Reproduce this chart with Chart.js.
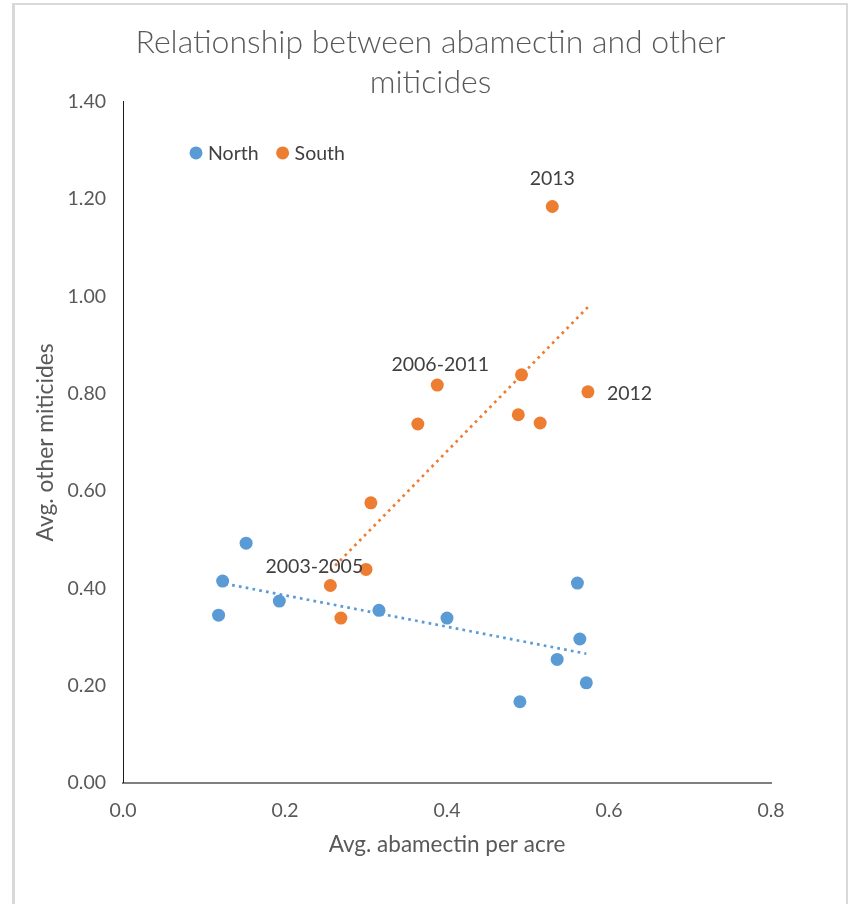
<!DOCTYPE html>
<html>
<head>
<meta charset="utf-8">
<script src="https://cdn.jsdelivr.net/npm/chart.js@4.4.1/dist/chart.umd.min.js"></script>
<style>
  html, body { margin: 0; padding: 0; background: #fff; }
  #frame {
    position: absolute; left: 12px; top: 3px;
    width: 831px; height: 901px;
    border-left: 3px solid #d9d9d9;
    border-top: 2px solid #d9d9d9;
    border-right: 2px solid #d9d9d9;
    background: #fff;
  }
  canvas { display: block; }
</style>
</head>
<body>
<div id="frame"><canvas id="chart" width="831" height="899"></canvas></div>
<script>
// Average abamectin per acre (x) vs average other miticides (y), by region
const northX = [0.118, 0.123, 0.152, 0.193, 0.316, 0.400, 0.490, 0.536, 0.561, 0.564, 0.572];
const northY = [0.345, 0.415, 0.493, 0.374, 0.355, 0.339, 0.167, 0.254, 0.411, 0.296, 0.206];

const southX = [0.256, 0.269, 0.300, 0.306, 0.364, 0.388, 0.488, 0.492, 0.515, 0.574, 0.530];
const southY = [0.406, 0.339, 0.439, 0.576, 0.738, 0.818, 0.757, 0.839, 0.740, 0.804, 1.185];
const southYears = ['2003-2005', '', '', '', '', '2006-2011', '', '', '', '2012', '2013'];

const seriesNames = ['North', 'South'];
const xTickLabels = ['0.0', '0.2', '0.4', '0.6', '0.8'];
const yTickLabels = ['0.00', '0.20', '0.40', '0.60', '0.80', '1.00', '1.20', '1.40'];

const BLUE = '#5B9BD5';
const ORANGE = '#ED7D31';
const FONT = 'Lato, "Open Sans", sans-serif';

function toPoints(xs, ys) {
  return xs.map((x, i) => ({ x: x, y: ys[i] }));
}

// Least-squares linear trend, spanning the observed x range
function trendLine(xs, ys) {
  const n = xs.length;
  const mx = xs.reduce((a, b) => a + b, 0) / n;
  const my = ys.reduce((a, b) => a + b, 0) / n;
  let sxy = 0, sxx = 0;
  for (let i = 0; i < n; i++) {
    sxy += (xs[i] - mx) * (ys[i] - my);
    sxx += (xs[i] - mx) * (xs[i] - mx);
  }
  const slope = sxy / sxx;
  const icpt = my - slope * mx;
  const x0 = Math.min(...xs), x1 = Math.max(...xs);
  return [{ x: x0, y: icpt + slope * x0 }, { x: x1, y: icpt + slope * x1 }];
}

// Where each year label sits relative to its point (pixels)
const labelPlacement = {
  '2003-2005': { dx: -16, dy: -19, align: 'center' },
  '2006-2011': { dx: 3, dy: -20, align: 'center' },
  '2012': { dx: 19, dy: 2, align: 'left' },
  '2013': { dx: 0, dy: -28, align: 'center' }
};

const annotations = {
  id: 'annotations',
  afterDatasetsDraw(chart) {
    const ctx = chart.ctx;
    const area = chart.chartArea;
    ctx.save();

    // year labels on the South series
    const meta = chart.getDatasetMeta(3);
    ctx.font = '19.5px ' + FONT;
    ctx.fillStyle = '#404040';
    ctx.textBaseline = 'middle';
    southYears.forEach((txt, i) => {
      if (!txt) return;
      const el = meta.data[i];
      const p = labelPlacement[txt];
      ctx.textAlign = p.align;
      ctx.fillText(txt, el.x + p.dx, el.y + p.dy);
    });

    // legend inside the plot area
    const colors = [BLUE, ORANGE];
    let x = area.left + 73;
    const y = area.top + 51;
    ctx.textAlign = 'left';
    seriesNames.forEach((name, i) => {
      ctx.beginPath();
      ctx.fillStyle = colors[i];
      ctx.arc(x, y, 6.5, 0, Math.PI * 2);
      ctx.fill();
      ctx.fillStyle = '#404040';
      ctx.fillText(name, x + 12, y + 1);
      x += 12 + ctx.measureText(name).width + 24;
    });
    ctx.restore();
  }
};

const markerStyle = (color) => ({
  backgroundColor: color,
  borderColor: color,
  pointRadius: 6.5,
  pointHoverRadius: 6.5,
  pointBorderWidth: 0,
  showLine: false
});

const trendStyle = (color) => ({
  borderColor: color,
  borderWidth: 2.7,
  borderDash: [2.7, 4.2],
  pointRadius: 0,
  pointHoverRadius: 0,
  showLine: true,
  fill: false
});

new Chart(document.getElementById('chart'), {
  type: 'scatter',
  data: {
    datasets: [
      Object.assign({ label: 'North trend', data: trendLine(northX, northY), order: 3 }, trendStyle(BLUE)),
      Object.assign({ label: 'South trend', data: trendLine(southX, southY), order: 3 }, trendStyle(ORANGE)),
      Object.assign({ label: seriesNames[0], data: toPoints(northX, northY), order: 1 }, markerStyle(BLUE)),
      Object.assign({ label: seriesNames[1], data: toPoints(southX, southY), order: 1 }, markerStyle(ORANGE))
    ]
  },
  options: {
    responsive: false,
    animation: false,
    events: [],
    layout: { padding: 0 },
    plugins: {
      legend: { display: false },
      tooltip: { enabled: false },
      title: {
        display: true,
        text: ['Relationship between abamectin and other', 'miticides'],
        color: '#595959',
        font: { family: FONT, size: 32, weight: '300', lineHeight: 1.23 },
        padding: { top: 18.3, bottom: -0.1 }
      }
    },
    scales: {
      x: {
        type: 'linear',
        min: 0, max: 0.8,
        grid: { display: false, drawTicks: false },
        border: { display: true, color: '#7f7f7f', width: 2 },
        ticks: {
          stepSize: 0.2,
          padding: 16,
          color: '#595959',
          font: { family: FONT, size: 19.5 },
          callback: (v, i) => xTickLabels[i]
        },
        title: {
          display: true,
          text: 'Avg. abamectin per acre',
          color: '#595959',
          font: { family: FONT, size: 22.5 },
          padding: { top: 0, bottom: 46 }
        },
        afterFit: (s) => { s.height = 121; }
      },
      y: {
        type: 'linear',
        min: 0, max: 1.4,
        grid: { display: false, drawTicks: false },
        border: { display: true, color: '#1a1a1a', width: 1 },
        ticks: {
          stepSize: 0.2,
          padding: 17,
          color: '#595959',
          font: { family: FONT, size: 19.5 },
          callback: (v, i) => yTickLabels[i]
        },
        title: {
          display: true,
          text: 'Avg. other miticides',
          color: '#595959',
          font: { family: FONT, size: 22.8 },
          padding: { top: 16.5, bottom: 0 }
        },
        afterFit: (s) => { s.width = 108; }
      },
      spacer: {
        position: 'right',
        grid: { display: false },
        border: { display: false },
        ticks: { display: false },
        afterFit: (s) => { s.width = 75; }
      }
    }
  },
  plugins: [annotations]
});
</script>
</body>
</html>
